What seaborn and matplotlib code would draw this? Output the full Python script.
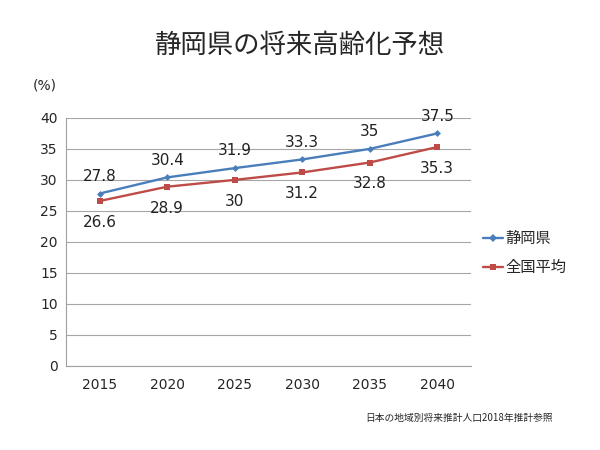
import numpy as np
import pandas as pd
import matplotlib
matplotlib.use("Agg")
import matplotlib.pyplot as plt
from matplotlib.ticker import FixedLocator
import seaborn as sns

years = ["2015", "2020", "2025", "2030", "2035", "2040"]
shizuoka = [27.8, 30.4, 31.9, 33.3, 35.0, 37.5]
national = [26.6, 28.9, 30.0, 31.2, 32.8, 35.3]
series_names = ["静岡県", "全国平均"]
yticks = [0, 5, 10, 15, 20, 25, 30, 35, 40]

sns.set_theme(style="white")
plt.rcParams["font.family"] = ["DejaVu Sans", "Noto Sans CJK JP"]
cjk = ["Noto Sans CJK JP", "DejaVu Sans"]

df = pd.DataFrame({
    "year": years * 2,
    "value": shizuoka + national,
    "series": [series_names[0]] * len(years) + [series_names[1]] * len(years),
})

colors = {"静岡県": "#4A7EBB", "全国平均": "#BE4B48"}
markers = {"静岡県": "D", "全国平均": "s"}

fig = plt.figure(figsize=(6, 4.5), dpi=100)
ax = fig.add_axes([0.11, 0.187, 0.675, 0.551])

sns.lineplot(data=df, x="year", y="value", hue="series", style="series",
             palette=colors, markers=markers, dashes=False, linewidth=1.7,
             markersize=4, markeredgewidth=0, ax=ax, legend=True)
for ln, s in zip(ax.lines, series_names):
    ln.set_markersize(3.5 if s == "静岡県" else 5)

ax.set_xlim(-0.5, len(years) - 0.5)
ax.set_ylim(0, 40)
ax.set_yticks(yticks)
ax.set_yticklabels([str(v) for v in yticks], fontsize=10)
ax.set_xticks(range(len(years)))
ax.set_xticklabels(years, fontsize=10)
ax.xaxis.set_minor_locator(FixedLocator(np.arange(-0.5, len(years), 1.0)))
ax.tick_params(axis="x", which="major", length=0, pad=9)
ax.tick_params(axis="x", which="minor", length=5, color="#A0A0A0", direction="out")
ax.tick_params(axis="y", length=0, pad=6)
ax.grid(axis="y", color="#A6A6A6", linewidth=0.8)
ax.set_axisbelow(True)
for side in ["top", "right"]:
    ax.spines[side].set_visible(False)
for side in ["left", "bottom"]:
    ax.spines[side].set_color("#A0A0A0")
    ax.spines[side].set_linewidth(0.8)
ax.set_xlabel("")
ax.set_ylabel("")

for i, v in enumerate(shizuoka):
    ax.annotate(f"{v:g}", (i, v), xytext=(0, 7), textcoords="offset points",
                ha="center", va="bottom", fontsize=11, color="#222222")
for i, v in enumerate(national):
    ax.annotate(f"{v:g}", (i, v), xytext=(0, -10), textcoords="offset points",
                ha="center", va="top", fontsize=11, color="#222222")

leg = ax.legend(loc="center left", bbox_to_anchor=(0.995, 0.455), frameon=False,
                handlelength=1.3, handletextpad=0.2, labelspacing=0.8,
                prop={"family": cjk, "size": 11})

fig.text(0.5, 0.9, "静岡県の将来高齢化予想", ha="center", va="center",
         fontsize=19, family=cjk)
fig.text(0.055, 0.81, "(%)", ha="left", va="center", fontsize=10)
fig.text(0.608, 0.072, "日本の地域別将来推計人口2018年推計参照", ha="left", va="center",
         fontsize=7, family=cjk)

fig.savefig("out.png", dpi=100)
